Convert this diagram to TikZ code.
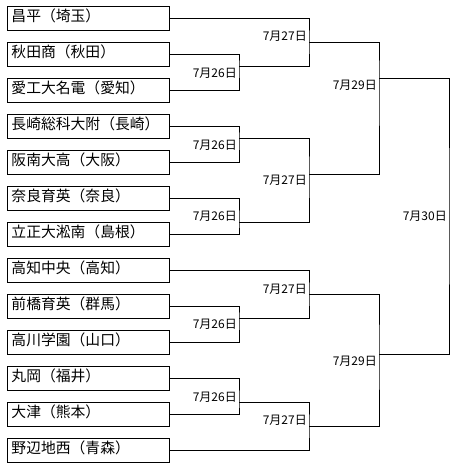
\documentclass[tikz,border=0pt]{standalone}
\usepackage{fontspec}
\setmainfont{Noto Sans CJK JP}
\newfontfamily\jpfont{Noto Sans CJK JP}
\begin{document}
\begin{tikzpicture}[x=1pt,y=-1pt,
  team/.style={draw=black,line width=1pt,rectangle,anchor=west,inner xsep=4pt,inner ysep=0pt,
    minimum height=24pt,text width=154pt,align=left,font=\jpfont\fontsize{14.8}{16}\selectfont,
    text height=0.88em,text depth=0.12em},
  datelbl/.style={anchor=base east,inner sep=0pt,font=\jpfont\fontsize{12}{13}\selectfont},
  wire/.style={draw=black,line width=1pt}]
\useasboundingbox (0,0) rectangle (457,467);
% teams
\node[team] (t1)  at (7,18)  {昌平（埼玉）};
\node[team] (t2)  at (7,54)  {秋田商（秋田）};
\node[team] (t3)  at (7,90)  {愛工大名電（愛知）};
\node[team] (t4)  at (7,126) {長崎総科大附（長崎）};
\node[team] (t5)  at (7,162) {阪南大高（大阪）};
\node[team] (t6)  at (7,198) {奈良育英（奈良）};
\node[team] (t7)  at (7,234) {立正大淞南（島根）};
\node[team] (t8)  at (7,270) {高知中央（高知）};
\node[team] (t9)  at (7,306) {前橋育英（群馬）};
\node[team] (t10) at (7,342) {高川学園（山口）};
\node[team] (t11) at (7,378) {丸岡（福井）};
\node[team] (t12) at (7,414) {大津（熊本）};
\node[team] (t13) at (7,450) {野辺地西（青森）};
% junctions
\coordinate (a1) at (239,66);
\coordinate (a2) at (239,138);
\coordinate (a3) at (239,222);
\coordinate (a4) at (239,318);
\coordinate (a5) at (239,402);
\coordinate (b1) at (309,42);
\coordinate (b2) at (309,174);
\coordinate (b3) at (309,294);
\coordinate (b4) at (309,426);
\coordinate (c1) at (379,78);
\coordinate (c2) at (379,354);
\coordinate (d)  at (449,216);
% round 1
\draw[wire] (t2.east) -| (a1) |- (t3.east);
\draw[wire] (t4.east) -| (a2) |- (t5.east);
\draw[wire] (t6.east) -| (a3) |- (t7.east);
\draw[wire] (t9.east) -| (a4) |- (t10.east);
\draw[wire] (t11.east) -| (a5) |- (t12.east);
% round 2
\draw[wire] (t1.east) -| (b1) |- (a1);
\draw[wire] (a2) -| (b2) |- (a3);
\draw[wire] (t8.east) -| (b3) |- (a4);
\draw[wire] (a5) -| (b4) |- (t13.east);
% semis
\draw[wire] (b1) -| (c1) |- (b2);
\draw[wire] (b3) -| (c2) |- (b4);
% final
\draw[wire] (c1) -| (d) |- (c2);
% labels
\node[datelbl] (l1) at (237,77.2) {7月26日};
\node[datelbl] (l2) at (237,149.2) {7月26日};
\node[datelbl] (l3) at (237,220.9) {7月26日};
\node[datelbl] (l4) at (237,328.2) {7月26日};
\node[datelbl] (l5) at (237,401.5) {7月26日};
\node[datelbl] (m1) at (307,40.9) {7月27日};
\node[datelbl] (m2) at (307,184.9) {7月27日};
\node[datelbl] (m3) at (307,293.2) {7月27日};
\node[datelbl] (m4) at (307,424.9) {7月27日};
\node[datelbl] (s1) at (377,89.2) {7月29日};
\node[datelbl] (s2) at (377,365.2) {7月29日};
\node[datelbl] (f1) at (447,220.9) {7月30日};
\end{tikzpicture}
\end{document}
